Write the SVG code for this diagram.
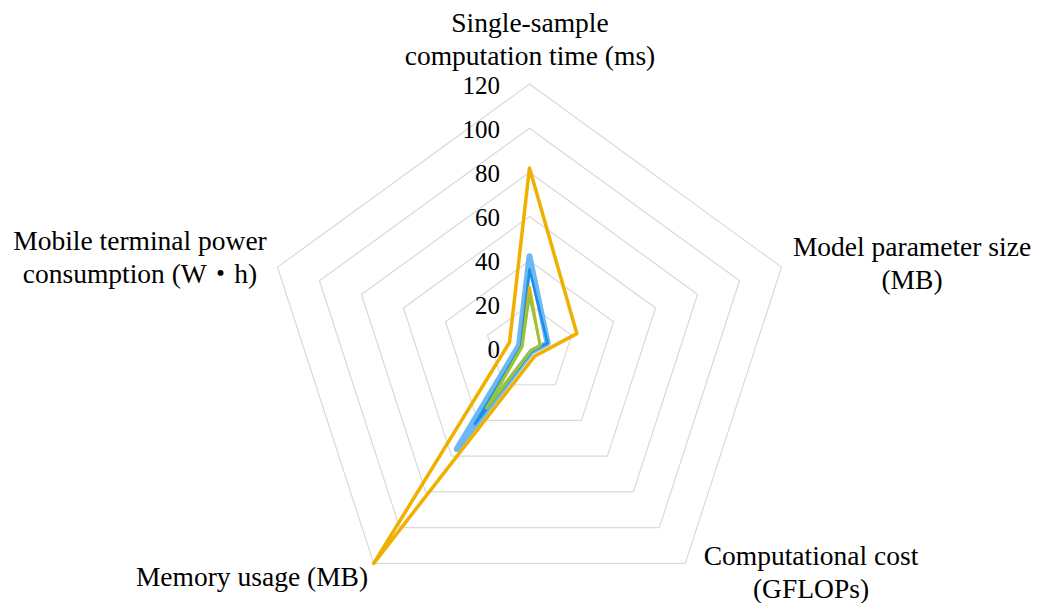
<svg xmlns="http://www.w3.org/2000/svg" width="1048" height="603" viewBox="0 0 1048 603">
<style>
text{font-family:"Liberation Serif","Noto Sans CJK JP",serif;fill:#000}
.lbl{font-size:27.5px;text-anchor:middle}
.tick{font-size:25px;text-anchor:end}
.ring{fill:none;stroke:#d9d9d9;stroke-width:1.2}
.s{fill:none;stroke-linejoin:round;stroke-linecap:round}
</style>
<rect width="1048" height="603" fill="#fff"/>
<g id="grid">
<polygon class="ring" points="529.5,304.83 571.51,335.35 555.46,384.73 503.54,384.73 487.49,335.35"/>
<polygon class="ring" points="529.5,260.67 613.51,321.71 581.42,420.46 477.58,420.46 445.49,321.71"/>
<polygon class="ring" points="529.5,216.5 655.52,308.06 607.38,456.19 451.62,456.19 403.48,308.06"/>
<polygon class="ring" points="529.5,172.33 697.53,294.41 633.34,491.93 425.66,491.93 361.47,294.41"/>
<polygon class="ring" points="529.5,128.17 739.53,280.76 659.3,527.66 399.7,527.66 319.47,280.76"/>
<polygon class="ring" points="529.5,84 781.54,267.12 685.27,563.39 373.73,563.39 277.46,267.12"/>
</g>
<g id="ticks">
<text class="tick" x="500" y="94">120</text>
<text class="tick" x="500" y="138">100</text>
<text class="tick" x="500" y="182">80</text>
<text class="tick" x="500" y="226">60</text>
<text class="tick" x="500" y="270">40</text>
<text class="tick" x="500" y="314">20</text>
<text class="tick" x="500" y="358">0</text>
</g>
<g id="series">
<polygon class="s" stroke="#6cb8f2" stroke-width="6" points="529.5,256.3 547.6,343.1 531.4,351.7 456.8,449.1 519,345.6"/>
<polygon class="s" stroke="#1a8ee8" stroke-width="2.5" points="529.5,269.5 547.6,343.1 531.4,351.7 475,424 521.1,346.3"/>
<polygon class="s" stroke="#e8b000" stroke-width="3" points="529.5,287.2 540,345.6 530.8,350.8 486.7,408 522.2,346.6"/>
<polygon class="s" stroke="#8fc73e" stroke-width="2.5" points="529.5,296 540.4,345.4 530.8,350.8 486.7,408 522.2,346.6"/>
<polygon class="s" stroke="#efb000" stroke-width="3.5" points="529.5,167.9 576.8,333.6 534.7,356.1 373.7,563.4 509.5,342.5"/>
</g>
<g id="axis-top"><text class="lbl" x="530" y="32">Single-sample</text><text class="lbl" x="530" y="65">computation time (ms)</text></g>
<g id="axis-right"><text class="lbl" x="912" y="256">Model parameter size</text><text class="lbl" x="912" y="289">(MB)</text></g>
<g id="axis-bottom-right"><text class="lbl" x="811" y="565">Computational cost</text><text class="lbl" x="811" y="598">(GFLOPs)</text></g>
<g id="axis-bottom-left"><text class="lbl" x="252" y="586">Memory usage (MB)</text></g>
<g id="axis-left"><text class="lbl" x="140" y="250">Mobile terminal power</text><text class="lbl" x="140" y="283">consumption (W・h)</text></g>
</svg>
